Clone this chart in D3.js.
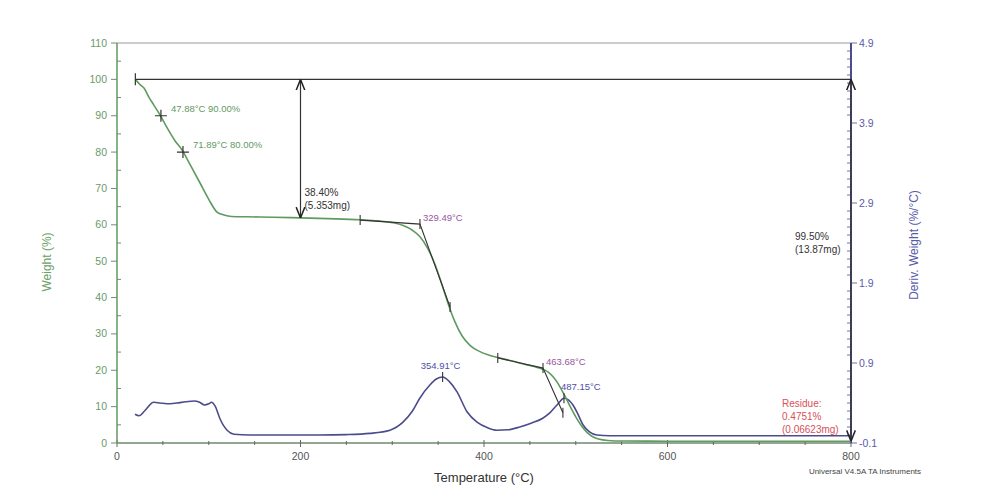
<!DOCTYPE html>
<html><head><meta charset="utf-8">
<script src="https://cdn.jsdelivr.net/npm/d3@7"></script>
<style>body{margin:0;background:#fff;font-family:"Liberation Sans",Arial,sans-serif}</style>
</head><body><svg id="c" width="988" height="498"></svg>
<script>
// ---- data ----
const weightT = [20,25,29.4,35,40,46.9,55,63,70.8,80,90.5,100,109,116.6,125,141.7,170,200,230,265,285,300,312,322,330,338,346,353,360,368,376,385,395,405,415,430,445,458,464,470,476,482,488,494,500,506,512,518,525,535,550,600,700,800];
const weightW = [100,98.6,97.6,95,93,90.2,86.5,83.2,80.6,76.4,71.5,67,63.5,62.7,62.3,62.2,62.1,61.9,61.7,61.4,61.1,60.6,59.8,58.5,56.8,53.8,49.5,44.5,39,33.5,29.5,26.8,25.2,24.2,23.5,22.6,21.6,20.8,20.3,19.5,18,15.8,13,10,7.2,4.8,3,1.8,1.1,0.7,0.55,0.5,0.48,0.48];
const derivT = [19.6,24,30,40,47,54.5,65,75,84,90,95.4,100,103,107,112,116,120,127.5,145,180,220,250,275.7,297.5,311.7,322,330,341,348,355,362,370.6,381.5,392.4,404,414,426,439,452,464,472,479.6,487.3,492,497,502,508,515,523,537,560,650,800];
const derivD = [0.26,0.24,0.3,0.41,0.4,0.39,0.4,0.415,0.425,0.41,0.375,0.39,0.41,0.36,0.21,0.12,0.06,0.01,0.0,0.0,0.0,0.005,0.02,0.06,0.16,0.3,0.46,0.625,0.7,0.725,0.67,0.54,0.29,0.16,0.09,0.06,0.065,0.1,0.15,0.21,0.28,0.375,0.46,0.44,0.375,0.27,0.125,0.04,0.0,-0.01,-0.01,-0.01,-0.01];
const xTicks = [0,200,400,600,800];
const yLeftTicks = [0,10,20,30,40,50,60,70,80,90,100,110];
const yRightTicks = [-0.1,0.9,1.9,2.9,3.9,4.9];
const crossPts = [{t:47.88,w:90,label:"47.88°C 90.00%"},{t:71.89,w:80,label:"71.89°C 80.00%"}];
const onsets = [
  {pre:[265,61.3], on:[330.2,60.2], post:[363,37.4], label:"329.49°C"},
  {pre:[415,23.4], on:[464.3,20.6], post:[486,8.3], label:"463.68°C"}
];
const peaks = [{t:354.91,d:0.725,label:"354.91°C",anchor:"middle",dx:-2},{t:487.15,d:0.46,label:"487.15°C",anchor:"start",dx:-3}];

// ---- drawing ----
const svg = d3.select("#c");
const x = d3.scaleLinear().domain([0,800]).range([117,851]);
const yL = d3.scaleLinear().domain([0,110]).range([443,43]);
const yR = d3.scaleLinear().domain([-0.1,4.9]).range([443,43]);
const GREEN="#5f9a5f", BLUE="#4c4c8c", PURPLE="#9a55a0", BLUEL="#4e4ea8", RED="#d8505a", TICK="#6f8f6f";

// top border
svg.append("line").attr("x1",117).attr("x2",851).attr("y1",43).attr("y2",43).attr("stroke","#999").attr("stroke-width",1);

// bottom axis
const gx = svg.append("g").attr("transform","translate(0,443)");
gx.append("line").attr("x1",117).attr("x2",851).attr("stroke","#6d8a6d").attr("stroke-width",1.5);
d3.range(0,801,50).forEach(v=>{
  const major = v%200===0;
  gx.append("line").attr("x1",x(v)).attr("x2",x(v)).attr("y1",major?-3:-2).attr("y2",major?4:2).attr("stroke","#666");
});
gx.selectAll("text.xt").data(xTicks).join("text").attr("class","xt")
  .attr("x",d=>x(d)).attr("y",17).attr("text-anchor","middle").attr("font-size",10.5).attr("fill","#555").text(d=>d);

// left axis
const gl = svg.append("g");
gl.append("line").attr("x1",117).attr("x2",117).attr("y1",43).attr("y2",443).attr("stroke",GREEN).attr("stroke-width",1.5);
d3.range(0,111,5).forEach(v=>{
  const major = v%10===0;
  gl.append("line").attr("x1",major?111:117).attr("x2",major?117:121).attr("y1",yL(v)).attr("y2",yL(v)).attr("stroke",TICK);
});
gl.selectAll("text").data(yLeftTicks).join("text").attr("x",107).attr("y",d=>yL(d)+3.5)
  .attr("text-anchor","end").attr("font-size",10.5).attr("fill","#6a9a6a").text(d=>d);

// right axis
const gr = svg.append("g");
gr.append("line").attr("x1",851).attr("x2",851).attr("y1",43).attr("y2",443).attr("stroke",BLUE).attr("stroke-width",2);
d3.range(0,51).forEach(i=>{
  const v = -0.1 + i*0.1; const major = i%10===0;
  gr.append("line").attr("x1",major?851:847).attr("x2",major?857:851).attr("y1",yR(v)).attr("y2",yR(v)).attr("stroke",BLUE).attr("stroke-width",0.8);
});
gr.selectAll("text").data(yRightTicks).join("text").attr("x",859).attr("y",d=>yR(d)+3.5)
  .attr("font-size",10.5).attr("fill","#5a5aa8").text(d=>d.toFixed(1));

// axis titles
svg.append("text").attr("transform","translate(51,262) rotate(-90)").attr("text-anchor","middle")
  .attr("font-size",12).attr("fill","#6aa06a").text("Weight (%)");
svg.append("text").attr("transform","translate(918,245) rotate(-90)").attr("text-anchor","middle")
  .attr("font-size",12).attr("fill","#5a5aa8").text("Deriv. Weight (%/°C)");
svg.append("text").attr("x",484).attr("y",482).attr("text-anchor","middle").attr("font-size",13).attr("fill","#333").text("Temperature (°C)");
svg.append("text").attr("x",865).attr("y",474).attr("text-anchor","middle").attr("font-size",8).attr("fill","#444").text("Universal V4.5A TA Instruments");

// curves
const wData = weightT.map((t,i)=>[t,weightW[i]]);
const dData = derivT.map((t,i)=>[t,derivD[i]]);
svg.append("path").datum(dData).attr("d",d3.line().x(d=>x(d[0])).y(d=>yR(d[1])).curve(d3.curveMonotoneX))
  .attr("fill","none").attr("stroke",BLUE).attr("stroke-width",1.6);
svg.append("path").datum(wData).attr("d",d3.line().x(d=>x(d[0])).y(d=>yL(d[1])).curve(d3.curveMonotoneX))
  .attr("fill","none").attr("stroke",GREEN).attr("stroke-width",1.6);

// markers / arrowheads
const defs = svg.append("defs");
defs.append("marker").attr("id","ah").attr("viewBox","0 0 10 10").attr("refX",10).attr("refY",5)
  .attr("markerWidth",9).attr("markerHeight",9).attr("orient","auto-start-reverse")
  .append("path").attr("d","M0,1 L10,5 L0,9").attr("fill","none").attr("stroke","#222").attr("stroke-width",1.4);

// 100% reference line
svg.append("line").attr("x1",x(20)).attr("x2",x(800)).attr("y1",yL(100)).attr("y2",yL(100)).attr("stroke","#333").attr("stroke-width",1.2);
svg.append("line").attr("x1",x(20)).attr("x2",x(20)).attr("y1",yL(100)-6).attr("y2",yL(100)+6).attr("stroke","#333").attr("stroke-width",1.2);
// 38.40% arrow
svg.append("line").attr("x1",x(200)).attr("x2",x(200)).attr("y1",yL(100)).attr("y2",yL(61.9)).attr("stroke","#333").attr("stroke-width",1.2)
  .attr("marker-start","url(#ah)").attr("marker-end","url(#ah)");
// 99.50% arrow
svg.append("line").attr("x1",x(800)).attr("x2",x(800)).attr("y1",yL(100)).attr("y2",yL(0.5)).attr("stroke","#333").attr("stroke-width",1.2)
  .attr("marker-start","url(#ah)").attr("marker-end","url(#ah)");

svg.append("text").attr("x",x(200)+4).attr("y",196).attr("font-size",10).attr("fill","#333").text("38.40%");
svg.append("text").attr("x",x(200)+4).attr("y",209).attr("font-size",10).attr("fill","#333").text("(5.353mg)");
svg.append("text").attr("x",795).attr("y",240).attr("font-size",10).attr("fill","#333").text("99.50%");
svg.append("text").attr("x",795).attr("y",253).attr("font-size",10).attr("fill","#333").text("(13.87mg)");
["Residue:","0.4751%","(0.06623mg)"].forEach((s,i)=>
  svg.append("text").attr("x",782).attr("y",407+i*13).attr("font-size",10).attr("fill",RED).text(s));

// crosses
crossPts.forEach(p=>{
  const cx=x(p.t), cy=yL(p.w);
  svg.append("path").attr("d",`M${cx-6},${cy}L${cx+6},${cy}M${cx},${cy-6}L${cx},${cy+6}`).attr("stroke","#333").attr("stroke-width",1.2);
  svg.append("text").attr("x",cx+10).attr("y",cy-4).attr("font-size",9.5).attr("fill",GREEN).text(p.label);
});

// onset tangents
onsets.forEach(o=>{
  const p=[o.pre,o.on,o.post].map(d=>[x(d[0]),yL(d[1])]);
  svg.append("path").attr("d",`M${p[0][0]},${p[0][1]}L${p[1][0]},${p[1][1]}L${p[2][0]},${p[2][1]}`)
    .attr("fill","none").attr("stroke","#333").attr("stroke-width",1.1);
  p.forEach(q=>svg.append("line").attr("x1",q[0]).attr("x2",q[0]).attr("y1",q[1]-5).attr("y2",q[1]+5).attr("stroke","#333").attr("stroke-width",1.1));
  svg.append("text").attr("x",p[1][0]+3).attr("y",p[1][1]-3).attr("font-size",9.5).attr("fill",PURPLE).text(o.label);
});

// peaks
peaks.forEach(pk=>{
  const px=x(pk.t), py=yR(pk.d);
  svg.append("line").attr("x1",px).attr("x2",px).attr("y1",py-5).attr("y2",py+5).attr("stroke","#333").attr("stroke-width",1.1);
  svg.append("text").attr("x",px+pk.dx).attr("y",py-8).attr("text-anchor",pk.anchor).attr("font-size",9.5).attr("fill",BLUEL).text(pk.label);
});
</script></body></html>
